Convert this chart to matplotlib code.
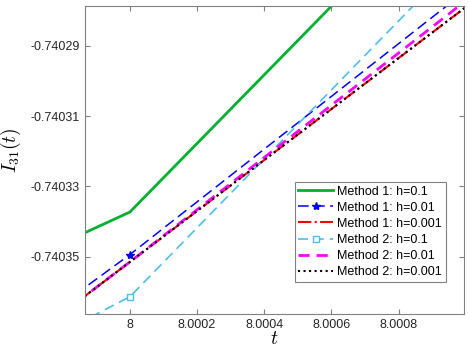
import numpy as np
import matplotlib.pyplot as plt

# data (values near t = 8)
t = [7.9998, 8.0, 8.0010]
m1_h01 = [-0.7403461, -0.7403373, -0.7402397]
m1_h001 = [-0.7403634, -0.7403494, -0.7402744]
m1_h0001 = [-0.7403660, -0.7403515, -0.7402790]
m2_h01 = [-0.7403713, -0.7403614, -0.7402633]
m2_h001 = [-0.7403660, -0.7403515, -0.7402772]
m2_h0001 = [-0.7403660, -0.7403515, -0.7402790]

xticks = [8, 8.0002, 8.0004, 8.0006, 8.0008]
xticklabels = ['8', '8.0002', '8.0004', '8.0006', '8.0008']
yticks = [-0.74035, -0.74033, -0.74031, -0.74029]
yticklabels = ['-0.74035', '-0.74033', '-0.74031', '-0.74029']

plt.rcParams['font.family'] = ['Liberation Sans', 'DejaVu Sans']
plt.rcParams['mathtext.fontset'] = 'cm'

fig = plt.figure(figsize=(4.69, 3.52), dpi=100)
ax = fig.add_axes([0.181, 0.108, 0.808, 0.876])

ax.plot(t, m1_h01, '-', color='#00b030', lw=2, label='Method 1: h=0.1')
ax.plot(t, m1_h001, '--', color='#0000ff', lw=1.1, marker='*', ms=6,
        markevery=[1], dashes=(7, 3.5), label='Method 1: h=0.01')
ax.plot(t, m1_h0001, '-.', color='#ff0000', lw=1.5, label='Method 1: h=0.001')
ax.plot(t, m2_h01, '--', color='#4dbeee', lw=1.2, marker='s', ms=5, mfc='white',
        markevery=[1], dashes=(6, 3.5), label='Method 2: h=0.1')
ax.plot(t, m2_h001, '--', color='#ff00ff', lw=2, dashes=(4, 2.5), label='Method 2: h=0.01')
ax.plot(t, m2_h0001, ':', color='black', lw=1.5, label='Method 2: h=0.001')

ax.set_xlim(7.999866, 8.000994)
ax.set_ylim(-0.7403663, -0.7402786)
ax.set_xticks(xticks)
ax.set_xticklabels(xticklabels)
ax.set_yticks(yticks)
ax.set_yticklabels(yticklabels)
ax.tick_params(direction='in', top=True, right=True, labelsize=9, colors='#808080',
               labelcolor='#262626', length=3.5)
for s in ax.spines.values():
    s.set_color('#808080')

ax.set_xlabel('$t$', fontsize=14, labelpad=0)
ax.set_ylabel('$I_{31}(t)$', fontsize=14)
ax.yaxis.set_label_coords(-0.163, 0.53)

leg = ax.legend(loc='lower right', bbox_to_anchor=(0.952, 0.104), fontsize=9, numpoints=1,
                handlelength=2.8, handletextpad=0.3, labelspacing=0.33,
                borderpad=0.3, fancybox=False, framealpha=1, borderaxespad=0)
leg.get_frame().set_edgecolor('#808080')
leg.get_frame().set_linewidth(0.8)

fig.savefig('out.png', dpi=100)
